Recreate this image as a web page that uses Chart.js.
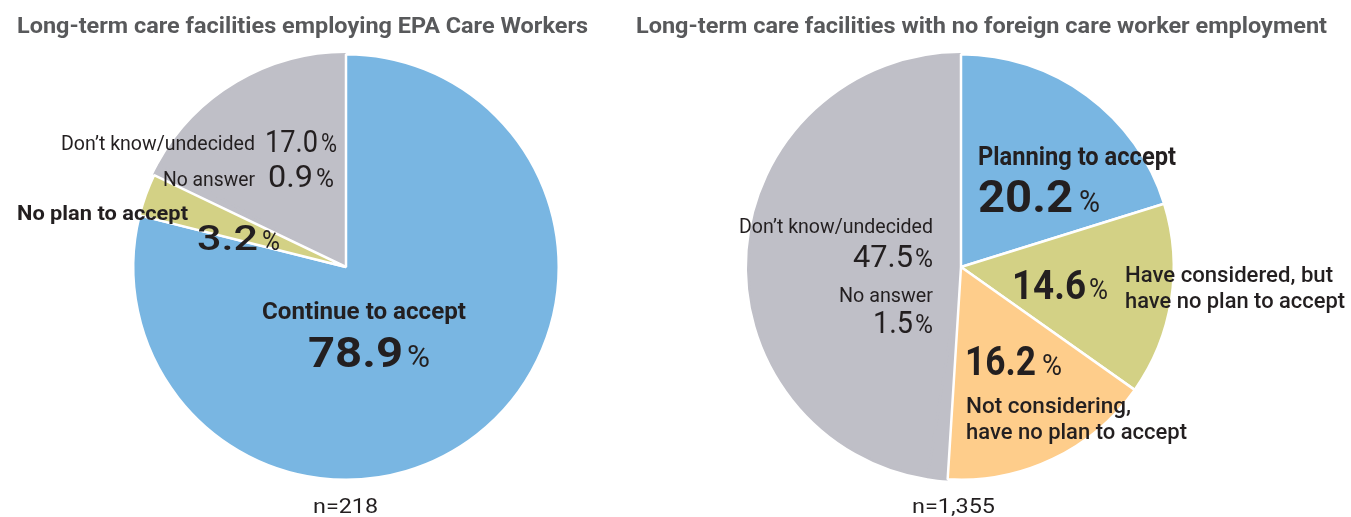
<!DOCTYPE html>
<html lang="en">
<head>
<meta charset="UTF-8">
<title>Long-term care facilities and foreign care workers</title>
<script src="https://cdn.jsdelivr.net/npm/chart.js"></script>
<style>
  body { margin: 0; background: #fff; }
  .wrap { position: relative; width: 1351px; height: 517px; }
  #leftPie { position: absolute; left: 0; top: 0; }
  #rightPie { position: absolute; left: 630px; top: 0; }
</style>
</head>
<body>
<div class="wrap">
  <canvas id="leftPie" width="630" height="517"></canvas>
  <canvas id="rightPie" width="721" height="517"></canvas>
</div>
<script>
// Left: facilities employing EPA care workers (clockwise from 12 o'clock)
const leftTitle = 'Long-term care facilities employing EPA Care Workers';
const leftN = 'n=218';
const leftCategories = ['Continue to accept', 'No plan to accept', 'No answer', 'Don\u2019t know/undecided'];
const leftValues = [78.9, 3.2, 0.9, 17.0];

// Right: facilities with no foreign care worker employment
const rightTitle = 'Long-term care facilities with no foreign care worker employment';
const rightN = 'n=1,355';
const rightCategories = ['Planning to accept', ['Have considered, but', 'have no plan to accept'],
  ['Not considering,', 'have no plan to accept'], 'No answer', 'Don\u2019t know/undecided'];
const rightValues = [20.2, 14.6, 16.2, 1.5, 47.5];

const BLUE = '#79b6e2', OLIVE = '#d3d185', ORANGE = '#fecd8b', GREY = '#bfbfc7';
const INK = '#231f20';

// label placement, offsets from the pie centre: [dx, dy, size, weight, width]
const leftPlace = [
  { name: [-84, 52, 24, 700, 204], num: [-38, 100, 43, 700, 95], pct: [61, 31, 23] },
  { name: [-329, -47, 21, 700, 171], num: [-149, -17, 35, 500, 61], pct: [-84, 27, 18] },
  { name: [-183, -81, 21, 400, 92], num: [-78, -80, 32, 400, 45], pct: [-30, 25, 18] },
  { name: [-285, -117, 21, 400, 194], num: [-81, -115, 32, 400, 53], pct: [-25, 25, 16] }
];
const rightPlace = [
  { name: [17, -102, 25, 700, 198], num: [17, -55, 45, 700, 95], pct: [118, 32, 21] },
  { name: [164, 15, 22, 500, 208, 220], num: [51, 32, 40, 700, 74], pct: [128, 30, 19] },
  { name: [5, 146, 22, 500, 165, 221], num: [4, 108, 40, 700, 71], pct: [81, 30, 20] },
  { name: [-122, 35, 21, 400, 94], num: [-88, 66, 32, 400, 40], pct: [-46, 25, 18] },
  { name: [-222, -34, 21, 400, 194], num: [-108, 0, 32, 400, 60], pct: [-46, 25, 18] }
];

// condensed look: squeeze text horizontally to a given width
function drawText(ctx, s, x, y, size, weight, width, color) {
  ctx.font = weight + ' ' + size + 'px Roboto';
  const m = ctx.measureText(s).width;
  ctx.save();
  ctx.fillStyle = color || INK;
  ctx.textBaseline = 'alphabetic';
  ctx.textAlign = 'left';
  ctx.translate(x, y);
  ctx.scale(width ? width / m : 0.86, 1);
  ctx.fillText(s, 0, 0);
  ctx.restore();
}

const sliceText = {
  id: 'sliceText',
  afterDraw(chart, args, opts) {
    const ctx = chart.ctx;
    const arc = chart.getDatasetMeta(0).data[0];
    const cx = arc.x, cy = arc.y;
    opts.categories.forEach((cat, i) => {
      const p = opts.place[i];
      const lines = Array.isArray(cat) ? cat : [cat];
      lines.forEach((ln, j) => {
        drawText(ctx, ln, cx + p.name[0], cy + p.name[1] + j * 26, p.name[2], p.name[3], p.name[4 + j]);
      });
      drawText(ctx, opts.values[i].toFixed(1), cx + p.num[0], cy + p.num[1], p.num[2], p.num[3], p.num[4]);
      drawText(ctx, '%', cx + p.pct[0], cy + p.num[1], p.pct[1], 400, p.pct[2]);
    });
    drawText(ctx, opts.title, opts.titleX, 33, 22, 700, opts.titleW, '#58595b');
    drawText(ctx, opts.n, opts.nX, 513, 20, 400, opts.nW, INK);
  }
};

// grey "No answer" + "Don't know" share one colour with no line between them:
// start the ring at "No answer" so the white edges are stroked last
function makePie(id, cats, vals, colors, first, pad, extra) {
  const order = vals.map((_, i) => (i + first) % vals.length);
  const before = vals.slice(0, first).reduce((a, b) => a + b, 0);
  const edge = order.map(i => colors[i] === GREY ? GREY : '#ffffff');
  return new Chart(document.getElementById(id), {
    type: 'pie',
    data: {
      labels: order.map(i => cats[i]),
      datasets: [{
        data: order.map(i => vals[i]),
        backgroundColor: order.map(i => colors[i]),
        borderColor: edge,
        borderWidth: 2.5
      }]
    },
    options: {
      responsive: false,
      animation: false,
      rotation: before * 3.6,
      layout: { padding: pad },
      plugins: {
        legend: { display: false },
        tooltip: { enabled: false },
        sliceText: Object.assign({ categories: cats, values: vals }, extra)
      }
    },
    plugins: [sliceText]
  });
}

makePie('leftPie', leftCategories, leftValues, [BLUE, OLIVE, GREY, GREY], 2,
  { left: 132, right: 70, top: 53, bottom: 36 },
  { place: leftPlace, title: leftTitle, titleX: 17, titleW: 571, n: leftN, nX: 313, nW: 65 });

makePie('rightPie', rightCategories, rightValues, [BLUE, OLIVE, ORANGE, GREY, GREY], 3,
  { left: 117, right: 176, top: 53, bottom: 36 },
  { place: rightPlace, title: rightTitle, titleX: 6, titleW: 691, n: rightN, nX: 282, nW: 83 });
</script>
</body>
</html>
